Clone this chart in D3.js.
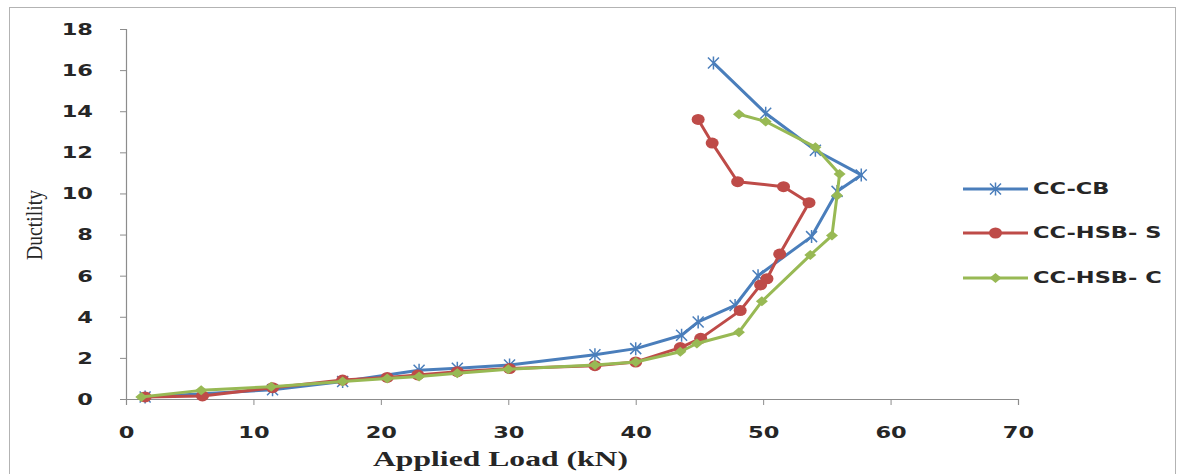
<!DOCTYPE html>
<html>
<head>
<meta charset="utf-8">
<script src="https://cdn.jsdelivr.net/npm/d3@7"></script>
<style>
  body { margin: 0; background: #fff; }
  svg { display: block; }
</style>
</head>
<body>
<svg id="chart"></svg>
<script>
// series names
const seriesNames = ["CC-CB", "CC-HSB- S", "CC-HSB- C"];

// CC-CB
const cbLoad = [1.5, 11.5, 17, 23, 26, 30.1, 36.8, 40, 43.6, 44.9, 47.8, 49.6, 53.8, 55.8, 57.7, 54.1, 50.2, 46.1];
const cbDuct = [0.1, 0.45, 0.85, 1.4, 1.5, 1.65, 2.15, 2.45, 3.1, 3.75, 4.55, 6.0, 7.9, 10.1, 10.9, 12.1, 13.9, 16.35];

// CC-HSB- S
const sLoad = [1.5, 6, 11.5, 17, 20.5, 22.9, 26, 30.1, 36.8, 40, 43.5, 45.1, 48.2, 49.8, 50.3, 51.3, 53.6, 51.6, 48.0, 46.0, 44.9];
const sDuct = [0.1, 0.15, 0.55, 0.92, 1.05, 1.17, 1.33, 1.48, 1.62, 1.8, 2.5, 2.95, 4.3, 5.55, 5.85, 7.05, 9.55, 10.33, 10.57, 12.45, 13.6];

// CC-HSB- C
const cLoad = [1.2, 5.9, 11.4, 17, 20.5, 23, 26, 30, 36.8, 40, 43.5, 44.8, 48.1, 49.9, 53.7, 55.4, 55.8, 56.0, 54.1, 50.2, 48.1];
const cDuct = [0.1, 0.42, 0.6, 0.85, 1.0, 1.1, 1.25, 1.45, 1.65, 1.8, 2.3, 2.7, 3.25, 4.75, 7.0, 7.95, 9.9, 10.95, 12.25, 13.5, 13.85];

const xTicks = [0, 10, 20, 30, 40, 50, 60, 70];
const yTicks = [0, 2, 4, 6, 8, 10, 12, 14, 16, 18];

const colors = ["#4A7EBB", "#BE4B48", "#98B954"];
const markers = ["star", "circle", "diamond"];

const W = 1184, H = 474;
const stretch = 1.5; // the source image is horizontally stretched

const svg = d3.select("#chart").attr("width", W).attr("height", H);

// outer frame
svg.append("rect")
  .attr("x", 9.5).attr("y", 7.5)
  .attr("width", 1166).attr("height", 470)
  .attr("fill", "none").attr("stroke", "#b3b3b3");

const x = d3.scaleLinear().domain([0, 70]).range([126, 1018]);
const y = d3.scaleLinear().domain([0, 18]).range([399, 29]);

const labelFont = "'DejaVu Sans', Verdana, sans-serif";

// X axis
const gx = svg.append("g")
  .attr("transform", `translate(0,${y(0)})`)
  .call(d3.axisBottom(x).tickValues(xTicks).tickSize(6).tickPadding(0));
gx.select(".domain").attr("stroke", "#8c8c8c");
gx.selectAll(".tick line").attr("stroke", "#8c8c8c");
gx.selectAll(".tick text")
  .attr("y", 39).attr("dy", null)
  .attr("transform", `scale(${stretch},1)`)
  .attr("fill", "#262626")
  .style("font-family", labelFont)
  .style("font-weight", "bold")
  .style("font-size", "15px");

// Y axis
const gy = svg.append("g")
  .attr("transform", `translate(${x(0)},0)`)
  .call(d3.axisLeft(y).tickValues(yTicks).tickSize(6).tickPadding(0));
gy.select(".domain").attr("stroke", "#8c8c8c");
gy.selectAll(".tick line").attr("stroke", "#8c8c8c");
gy.selectAll(".tick text")
  .attr("x", -33 / stretch).attr("dy", "0.36em")
  .attr("transform", `scale(${stretch},1)`)
  .attr("fill", "#262626")
  .style("font-family", labelFont)
  .style("font-weight", "bold")
  .style("font-size", "15px");
svg.selectAll(".domain").attr("stroke-width", 1.2);

// axis titles
svg.append("text")
  .attr("transform", "translate(42,225) scale(1.4,1) rotate(-90)")
  .attr("text-anchor", "middle")
  .attr("textLength", 70).attr("lengthAdjust", "spacingAndGlyphs")
  .style("font-family", "'Liberation Serif', 'Times New Roman', serif")
  .style("font-size", "16px")
  .attr("fill", "#262626")
  .text("Ductility");

svg.append("text")
  .attr("x", 373).attr("y", 466)
  .attr("textLength", 255).attr("lengthAdjust", "spacingAndGlyphs")
  .style("font-family", "'Liberation Serif', 'Times New Roman', serif")
  .style("font-weight", "bold")
  .style("font-size", "20px")
  .attr("fill", "#262626")
  .text("Applied Load (kN)");

// series
const series = [
  { name: seriesNames[0], xs: cbLoad, ys: cbDuct },
  { name: seriesNames[1], xs: sLoad, ys: sDuct },
  { name: seriesNames[2], xs: cLoad, ys: cDuct }
];

const line = d3.line().x(d => x(d[0])).y(d => y(d[1]));

function drawMarker(g, type, cx, cy, color) {
  if (type === "star") {
    const r = 5.5;
    g.append("path")
      .attr("d", `M${cx - r},${cy - r}L${cx + r},${cy + r}M${cx - r},${cy + r}L${cx + r},${cy - r}M${cx},${cy - r - 1}L${cx},${cy + r + 1}`)
      .attr("stroke", color).attr("stroke-width", 1.5).attr("fill", "none");
  } else if (type === "circle") {
    g.append("ellipse")
      .attr("cx", cx).attr("cy", cy).attr("rx", 6.5).attr("ry", 5.5)
      .attr("fill", color);
  } else {
    const rx = 6, ry = 5;
    g.append("path")
      .attr("d", `M${cx},${cy - ry}L${cx + rx},${cy}L${cx},${cy + ry}L${cx - rx},${cy}Z`)
      .attr("fill", color);
  }
}

series.forEach((s, i) => {
  const pts = s.xs.map((v, j) => [v, s.ys[j]]);
  const g = svg.append("g");
  g.append("path")
    .datum(pts)
    .attr("d", line)
    .attr("fill", "none")
    .attr("stroke", colors[i])
    .attr("stroke-width", 3)
    .attr("stroke-linejoin", "round");
  pts.forEach(p => drawMarker(g, markers[i], x(p[0]), y(p[1]), colors[i]));
});

// legend
const legY = [189, 233, 278];
series.forEach((s, i) => {
  const g = svg.append("g");
  g.append("line")
    .attr("x1", 963).attr("x2", 1028)
    .attr("y1", legY[i]).attr("y2", legY[i])
    .attr("stroke", colors[i]).attr("stroke-width", 3);
  drawMarker(g, markers[i], 995.5, legY[i], colors[i]);
  g.append("text")
    .attr("x", 1033 / stretch).attr("y", legY[i]).attr("dy", "0.36em")
    .attr("transform", `scale(${stretch},1)`)
    .attr("fill", "#262626")
    .style("font-family", labelFont)
    .style("font-weight", "bold")
    .style("font-size", "15px")
    .text(s.name);
});
</script>
</body>
</html>
